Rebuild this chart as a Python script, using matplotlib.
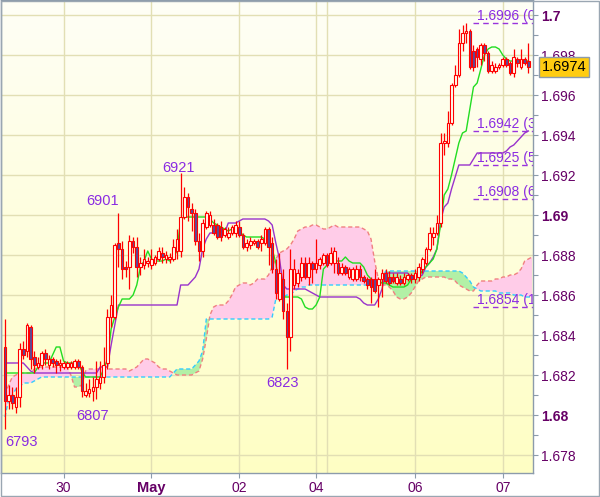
import numpy as np
import matplotlib
matplotlib.use('Agg')
import matplotlib.pyplot as plt
from matplotlib.patches import Rectangle
from matplotlib.collections import LineCollection
from matplotlib.colors import LinearSegmentedColormap

plt.rcParams['font.family'] = ['Liberation Sans', 'DejaVu Sans']

# hourly candles (bar index 0 .. 143)
opens = [
    1.6834, 1.6807, 1.6810, 1.6804, 1.6809, 1.6833, 1.6832, 1.6844, 1.6829, 1.6824,
    1.6825, 1.6831, 1.6825, 1.6828, 1.6827, 1.6825, 1.6824, 1.6824, 1.6824, 1.6824,
    1.6827, 1.6824, 1.6810, 1.6811, 1.6812, 1.6814, 1.6816, 1.6819, 1.6826, 1.6849,
    1.6849, 1.6886, 1.6883, 1.6874, 1.6874, 1.6887, 1.6884, 1.6874, 1.6875, 1.6876,
    1.6875, 1.6876, 1.6878, 1.6881, 1.6878, 1.6878, 1.6878, 1.6882, 1.6882, 1.6899,
    1.6909, 1.6903, 1.6901, 1.6887, 1.6882, 1.6894, 1.6895, 1.6895, 1.6895, 1.6894,
    1.6890, 1.6889, 1.6891, 1.6891, 1.6894, 1.6890, 1.6884, 1.6885, 1.6886, 1.6887,
    1.6886, 1.6886, 1.6893, 1.6886, 1.6873, 1.6858, 1.6868, 1.6852, 1.6839, 1.6865,
    1.6866, 1.6869, 1.6876, 1.6869, 1.6876, 1.6873, 1.6875, 1.6876, 1.6880, 1.6876,
    1.6876, 1.6876, 1.6871, 1.6874, 1.6869, 1.6868, 1.6868, 1.6873, 1.6869, 1.6868,
    1.6868, 1.6868, 1.6865, 1.6868, 1.6871, 1.6869, 1.6869, 1.6866, 1.6868, 1.6866,
    1.6868, 1.6870, 1.6868, 1.6869, 1.6873, 1.6876, 1.6883, 1.6889, 1.6891, 1.6896,
    1.6936, 1.6936, 1.6946, 1.6965, 1.6970, 1.6986, 1.6991, 1.6992, 1.6982, 1.6983,
    1.6978, 1.6985, 1.6981, 1.6972, 1.6972, 1.6974, 1.6975, 1.6978, 1.6976, 1.6971,
    1.6978, 1.6974, 1.6978, 1.6977]
highs = [
    1.6848, 1.6815, 1.6814, 1.6814, 1.6836, 1.6837, 1.6846, 1.6845, 1.6832, 1.6829,
    1.6832, 1.6833, 1.6830, 1.6829, 1.6828, 1.6828, 1.6827, 1.6827, 1.6827, 1.6828,
    1.6828, 1.6825, 1.6816, 1.6818, 1.6819, 1.6827, 1.6827, 1.6834, 1.6853, 1.6860,
    1.6886, 1.6901, 1.6887, 1.6877, 1.6890, 1.6889, 1.6889, 1.6879, 1.6883, 1.6879,
    1.6883, 1.6880, 1.6884, 1.6884, 1.6882, 1.6881, 1.6888, 1.6893, 1.6921, 1.6914,
    1.6911, 1.6906, 1.6903, 1.6891, 1.6898, 1.6902, 1.6902, 1.6898, 1.6896, 1.6897,
    1.6894, 1.6894, 1.6895, 1.6897, 1.6897, 1.6891, 1.6888, 1.6889, 1.6888, 1.6888,
    1.6890, 1.6894, 1.6894, 1.6889, 1.6878, 1.6881, 1.6873, 1.6856, 1.6883, 1.6878,
    1.6873, 1.6879, 1.6879, 1.6879, 1.6877, 1.6888, 1.6879, 1.6881, 1.6881, 1.6884,
    1.6884, 1.6879, 1.6876, 1.6875, 1.6874, 1.6874, 1.6875, 1.6875, 1.6870, 1.6869,
    1.6869, 1.6873, 1.6869, 1.6873, 1.6873, 1.6872, 1.6871, 1.6871, 1.6870, 1.6871,
    1.6871, 1.6871, 1.6873, 1.6876, 1.6879, 1.6884, 1.6894, 1.6894, 1.6900, 1.6941,
    1.6941, 1.6952, 1.6966, 1.6975, 1.6993, 1.6995, 1.6996, 1.6993, 1.6985, 1.6984,
    1.6986, 1.6986, 1.6982, 1.6977, 1.6976, 1.6976, 1.6979, 1.6979, 1.6977, 1.6983,
    1.6979, 1.6983, 1.6979, 1.6986]
lows = [
    1.6793, 1.6803, 1.6803, 1.6801, 1.6804, 1.6828, 1.6829, 1.6823, 1.6821, 1.6823,
    1.6823, 1.6825, 1.6823, 1.6824, 1.6821, 1.6822, 1.6823, 1.6823, 1.6823, 1.6823,
    1.6823, 1.6809, 1.6809, 1.6809, 1.6807, 1.6808, 1.6813, 1.6816, 1.6823, 1.6844,
    1.6848, 1.6874, 1.6868, 1.6869, 1.6863, 1.6881, 1.6869, 1.6870, 1.6873, 1.6874,
    1.6873, 1.6875, 1.6877, 1.6876, 1.6876, 1.6876, 1.6877, 1.6878, 1.6879, 1.6898,
    1.6897, 1.6892, 1.6885, 1.6877, 1.6879, 1.6893, 1.6894, 1.6890, 1.6888, 1.6887,
    1.6889, 1.6888, 1.6890, 1.6889, 1.6889, 1.6883, 1.6882, 1.6883, 1.6885, 1.6883,
    1.6882, 1.6885, 1.6875, 1.6871, 1.6858, 1.6857, 1.6848, 1.6823, 1.6832, 1.6863,
    1.6864, 1.6867, 1.6868, 1.6865, 1.6866, 1.6871, 1.6873, 1.6875, 1.6874, 1.6875,
    1.6871, 1.6870, 1.6870, 1.6870, 1.6868, 1.6867, 1.6867, 1.6867, 1.6866, 1.6863,
    1.6856, 1.6861, 1.6854, 1.6859, 1.6866, 1.6865, 1.6866, 1.6865, 1.6865, 1.6865,
    1.6867, 1.6866, 1.6866, 1.6867, 1.6871, 1.6875, 1.6882, 1.6885, 1.6890, 1.6894,
    1.6930, 1.6934, 1.6945, 1.6964, 1.6969, 1.6982, 1.6986, 1.6973, 1.6972, 1.6974,
    1.6975, 1.6977, 1.6971, 1.6971, 1.6971, 1.6973, 1.6974, 1.6974, 1.6970, 1.6969,
    1.6974, 1.6973, 1.6975, 1.6971]
closes = [
    1.6807, 1.6810, 1.6806, 1.6809, 1.6833, 1.6830, 1.6845, 1.6828, 1.6825, 1.6826,
    1.6831, 1.6828, 1.6828, 1.6826, 1.6825, 1.6826, 1.6826, 1.6826, 1.6826, 1.6827,
    1.6824, 1.6812, 1.6812, 1.6813, 1.6814, 1.6818, 1.6819, 1.6825, 1.6849, 1.6855,
    1.6885, 1.6883, 1.6873, 1.6873, 1.6887, 1.6884, 1.6874, 1.6876, 1.6878, 1.6877,
    1.6878, 1.6879, 1.6882, 1.6879, 1.6880, 1.6879, 1.6884, 1.6888, 1.6899, 1.6909,
    1.6904, 1.6901, 1.6887, 1.6882, 1.6896, 1.6901, 1.6900, 1.6891, 1.6889, 1.6889,
    1.6893, 1.6891, 1.6894, 1.6895, 1.6890, 1.6884, 1.6886, 1.6887, 1.6887, 1.6884,
    1.6888, 1.6893, 1.6884, 1.6873, 1.6861, 1.6871, 1.6852, 1.6839, 1.6873, 1.6873,
    1.6871, 1.6876, 1.6869, 1.6876, 1.6873, 1.6876, 1.6878, 1.6880, 1.6875, 1.6881,
    1.6882, 1.6871, 1.6874, 1.6871, 1.6873, 1.6873, 1.6873, 1.6869, 1.6867, 1.6865,
    1.6864, 1.6862, 1.6868, 1.6871, 1.6867, 1.6866, 1.6867, 1.6869, 1.6866, 1.6869,
    1.6870, 1.6868, 1.6871, 1.6874, 1.6878, 1.6883, 1.6891, 1.6891, 1.6896, 1.6936,
    1.6937, 1.6946, 1.6965, 1.6970, 1.6986, 1.6991, 1.6992, 1.6974, 1.6974, 1.6979,
    1.6985, 1.6981, 1.6972, 1.6975, 1.6974, 1.6975, 1.6978, 1.6975, 1.6971, 1.6979,
    1.6976, 1.6978, 1.6976, 1.6974]

# Ichimoku lines
tenkan = [
    1.6821, 1.6821, 1.6821, 1.6821, 1.6821, 1.6821, 1.6821, 1.6821, 1.6821, 1.6824,
    1.6826, 1.6826, 1.6826, 1.6830, 1.6834, 1.6834, 1.6827, 1.6826, 1.6826, 1.6826,
    1.6826, 1.6822, 1.6819, 1.6819, 1.6819, 1.6819, 1.6819, 1.6823, 1.6828, 1.6843,
    1.6849, 1.6854, 1.6858, 1.6858, 1.6858, 1.6860, 1.6865, 1.6874, 1.6877, 1.6882,
    1.6878, 1.6877, 1.6877, 1.6877, 1.6878, 1.6877, 1.6879, 1.6882, 1.6898, 1.6899,
    1.6899, 1.6899, 1.6899, 1.6899, 1.6899, 1.6899, 1.6898, 1.6896, 1.6895, 1.6894,
    1.6893, 1.6892, 1.6893, 1.6894, 1.6892, 1.6890, 1.6889, 1.6889, 1.6889, 1.6889,
    1.6889, 1.6888, 1.6886, 1.6883, 1.6876, 1.6863, 1.6859, 1.6859, 1.6859, 1.6859,
    1.6859, 1.6858, 1.6854, 1.6853, 1.6853, 1.6855, 1.6859, 1.6873, 1.6875, 1.6877,
    1.6877, 1.6877, 1.6877, 1.6879, 1.6877, 1.6876, 1.6876, 1.6876, 1.6874, 1.6870,
    1.6868, 1.6867, 1.6867, 1.6866, 1.6866, 1.6865, 1.6864, 1.6864, 1.6864, 1.6864,
    1.6865, 1.6868, 1.6869, 1.6869, 1.6872, 1.6874, 1.6876, 1.6878, 1.6883, 1.6895,
    1.6910, 1.6913, 1.6920, 1.6928, 1.6936, 1.6941, 1.6942, 1.6953, 1.6964, 1.6966,
    1.6973, 1.6980, 1.6983, 1.6984, 1.6984, 1.6983, 1.6980, 1.6978, 1.6977, 1.6977,
    1.6976, 1.6976, 1.6977, 1.6977]
kijun = [
    1.6826, 1.6826, 1.6826, 1.6826, 1.6826, 1.6826, 1.6824, 1.6822, 1.6821, 1.6821,
    1.6821, 1.6821, 1.6821, 1.6821, 1.6821, 1.6821, 1.6821, 1.6821, 1.6821, 1.6821,
    1.6821, 1.6821, 1.6821, 1.6821, 1.6821, 1.6821, 1.6824, 1.6824, 1.6824, 1.6835,
    1.6845, 1.6855, 1.6855, 1.6855, 1.6855, 1.6855, 1.6855, 1.6855, 1.6855, 1.6855,
    1.6855, 1.6855, 1.6855, 1.6855, 1.6855, 1.6855, 1.6855, 1.6855, 1.6865, 1.6865,
    1.6865, 1.6867, 1.6869, 1.6873, 1.6883, 1.6888, 1.6891, 1.6891, 1.6891, 1.6891,
    1.6891, 1.6896, 1.6896, 1.6896, 1.6897, 1.6898, 1.6898, 1.6898, 1.6898, 1.6898,
    1.6898, 1.6898, 1.6897, 1.6895, 1.6886, 1.6878, 1.6865, 1.6863, 1.6863, 1.6863,
    1.6863, 1.6863, 1.6863, 1.6862, 1.6861, 1.6860, 1.6859, 1.6859, 1.6859, 1.6859,
    1.6859, 1.6859, 1.6859, 1.6859, 1.6859, 1.6859, 1.6859, 1.6858, 1.6856, 1.6855,
    1.6855, 1.6855, 1.6858, 1.6863, 1.6871, 1.6871, 1.6871, 1.6871, 1.6871, 1.6871,
    1.6871, 1.6869, 1.6869, 1.6869, 1.6870, 1.6874, 1.6876, 1.6879, 1.6883, 1.6897,
    1.6904, 1.6906, 1.6913, 1.6919, 1.6925, 1.6925, 1.6925, 1.6925, 1.6928, 1.6931,
    1.6931, 1.6931, 1.6931, 1.6931, 1.6931, 1.6931, 1.6931, 1.6932, 1.6934, 1.6935,
    1.6937, 1.6939, 1.6941, 1.6942]
# cloud spans (one bar longer than the candles)
span_a = [
    1.6799, 1.6808, 1.6810, 1.6813, 1.6814, 1.6816, 1.6816, 1.6816, 1.6817, 1.6818,
    1.6819, 1.6819, 1.6819, 1.6819, 1.6819, 1.6819, 1.6819, 1.6819, 1.6819, 1.6819,
    1.6819, 1.6819, 1.6819, 1.6819, 1.6819, 1.6819, 1.6819, 1.6819, 1.6819, 1.6819,
    1.6819, 1.6819, 1.6819, 1.6819, 1.6819, 1.6819, 1.6819, 1.6819, 1.6819, 1.6819,
    1.6819, 1.6819, 1.6819, 1.6819, 1.6819, 1.6819, 1.6821, 1.6823, 1.6823, 1.6823,
    1.6823, 1.6823, 1.6825, 1.6827, 1.6832, 1.6848, 1.6848, 1.6848, 1.6848, 1.6848,
    1.6848, 1.6848, 1.6848, 1.6848, 1.6848, 1.6848, 1.6848, 1.6848, 1.6848, 1.6848,
    1.6848, 1.6848, 1.6848, 1.6849, 1.6858, 1.6858, 1.6859, 1.6860, 1.6860, 1.6862,
    1.6863, 1.6864, 1.6864, 1.6865, 1.6865, 1.6865, 1.6865, 1.6865, 1.6865, 1.6865,
    1.6865, 1.6865, 1.6865, 1.6865, 1.6865, 1.6865, 1.6865, 1.6865, 1.6865, 1.6865,
    1.6865, 1.6865, 1.6865, 1.6868, 1.6872, 1.6872, 1.6872, 1.6872, 1.6872, 1.6872,
    1.6872, 1.6872, 1.6872, 1.6872, 1.6872, 1.6872, 1.6872, 1.6872, 1.6872, 1.6872,
    1.6872, 1.6872, 1.6872, 1.6872, 1.6872, 1.6871, 1.6869, 1.6867, 1.6864, 1.6863,
    1.6862, 1.6862, 1.6862, 1.6862, 1.6862, 1.6861, 1.6861, 1.6861, 1.6861, 1.6860,
    1.6860, 1.6860, 1.6859, 1.6859, 1.6859]
span_b = [
    1.6810, 1.6815, 1.6819, 1.6820, 1.6821, 1.6821, 1.6821, 1.6821, 1.6823, 1.6824,
    1.6824, 1.6824, 1.6824, 1.6824, 1.6824, 1.6824, 1.6824, 1.6824, 1.6820, 1.6814,
    1.6814, 1.6815, 1.6822, 1.6823, 1.6823, 1.6823, 1.6823, 1.6824, 1.6823, 1.6823,
    1.6823, 1.6823, 1.6823, 1.6823, 1.6822, 1.6823, 1.6824, 1.6826, 1.6828, 1.6828,
    1.6827, 1.6826, 1.6824, 1.6823, 1.6823, 1.6822, 1.6821, 1.6820, 1.6820, 1.6820,
    1.6820, 1.6820, 1.6821, 1.6822, 1.6828, 1.6838, 1.6850, 1.6854, 1.6855, 1.6855,
    1.6855, 1.6857, 1.6860, 1.6864, 1.6865, 1.6866, 1.6866, 1.6865, 1.6866, 1.6868,
    1.6868, 1.6868, 1.6870, 1.6874, 1.6878, 1.6881, 1.6882, 1.6883, 1.6885, 1.6888,
    1.6892, 1.6893, 1.6894, 1.6894, 1.6895, 1.6895, 1.6894, 1.6893, 1.6893, 1.6894,
    1.6895, 1.6894, 1.6894, 1.6894, 1.6894, 1.6894, 1.6894, 1.6894, 1.6893, 1.6892,
    1.6888, 1.6877, 1.6868, 1.6865, 1.6865, 1.6864, 1.6862, 1.6859, 1.6858, 1.6858,
    1.6859, 1.6861, 1.6864, 1.6867, 1.6868, 1.6869, 1.6869, 1.6869, 1.6869, 1.6869,
    1.6869, 1.6868, 1.6868, 1.6867, 1.6865, 1.6864, 1.6863, 1.6862, 1.6862, 1.6865,
    1.6867, 1.6867, 1.6867, 1.6867, 1.6868, 1.6868, 1.6869, 1.6869, 1.6870, 1.6870,
    1.6871, 1.6873, 1.6877, 1.6878, 1.6879]

# axis annotation data
date_ticks = [16, 40, 64, 85, 112, 136]
date_labels = ['30', 'May', '02', '04', '06', '07']
extra_vgrid = [88]
price_ticks = [1.678, 1.680, 1.682, 1.684, 1.686, 1.688, 1.690, 1.692, 1.694, 1.696, 1.698, 1.700]
price_minor = [1.679, 1.681, 1.683, 1.685, 1.687, 1.689, 1.691, 1.693, 1.695, 1.697, 1.699]

# retracement levels; labels are cut at the plot edge in the original
fib_levels = [1.6996, 1.6942, 1.6925, 1.6908, 1.6854]
fib_labels = ['1.6996 (0', '1.6942 (3', '1.6925 (5', '1.6908 (6', '1.6854 (1']
fib_start = 127.9

swing_bars = [0, 24, 31, 48, 77]
swing_kind = ['low', 'low', 'high', 'high', 'low']
swing_offsets = [(17, -17), (0, -19), (-16, 8), (-2, 1), (-4, -18)]  # pixels

# colours
spine_c = '#8c9bab'
grid_c = '#e2dfb4'
tick_c = '#660066'
violet = '#8a2be2'

n = len(opens)
bars = np.arange(n)
cloud_x = np.arange(len(span_a))
sa = np.array(span_a)
sb = np.array(span_b)

fig = plt.figure(figsize=(6.0, 4.97), dpi=100)
ax = fig.add_axes([1 / 600, 24 / 497, 532 / 600, 473 / 497])
x_lo, x_hi = -1.09, 144.26
y_lo, y_hi = 1.6771, 1.70075

# background gradient
bg = LinearSegmentedColormap.from_list('bg', ['#ffffc4', '#fefef6'])
ax.imshow(np.linspace(0, 1, 256).reshape(-1, 1), extent=[x_lo, x_hi, y_lo, y_hi],
          origin='lower', aspect='auto', cmap=bg, zorder=0)

# grid
for v in price_ticks:
    ax.axhline(v, color=grid_c, lw=1, zorder=0.5)
for t in date_ticks + extra_vgrid:
    ax.axvline(t, color=grid_c, lw=1, zorder=0.5)

# kumo
ax.fill_between(cloud_x, sa, sb, where=sb >= sa, interpolate=True, color='#ffcce8', lw=0, zorder=1)
ax.fill_between(cloud_x, sa, sb, where=sa > sb, interpolate=True, color='#b2f0a6', lw=0, zorder=1)
ax.plot(cloud_x, sb, color='#f08080', lw=1, ls=(0, (3, 2)), zorder=1.5)
ax.plot(cloud_x, sa, color='#33ccff', lw=1, ls=(0, (3, 2)), zorder=1.5)

# fibonacci levels
for lev, lab in zip(fib_levels, fib_labels):
    ax.hlines(lev, fib_start, x_hi + 5, colors='#9933dd', lw=1, linestyles=(0, (4, 3)), zorder=2)
    ax.annotate(lab, xy=(fib_start, lev), xytext=(4, 3), textcoords='offset pixels',
                ha='left', va='baseline', fontsize=10, color=violet, clip_on=True, zorder=2)

# tenkan / kijun
ax.plot(bars, kijun, color='#9933cc', lw=1, zorder=2.5)
ax.plot(bars, tenkan, color='#22dd22', lw=1, zorder=2.5)

# candles
w = 0.72
segs = []
for i in range(n):
    o, h, l, c = opens[i], highs[i], lows[i], closes[i]
    top, bot = max(o, c), min(o, c)
    segs.append([(i, h), (i, top)])
    segs.append([(i, bot), (i, l)])
    fc = '#5c4b99' if c < o else '#fffff0'
    ax.add_patch(Rectangle((i - w / 2, bot), w, top - bot, facecolor=fc,
                           edgecolor='#ff0000', lw=0.8, zorder=3.2))
ax.add_collection(LineCollection(segs, colors='#ff0000', linewidths=0.9, zorder=3))

# swing labels
for b, kind, (dx, dy) in zip(swing_bars, swing_kind, swing_offsets):
    val = lows[b] if kind == 'low' else highs[b]
    ax.annotate(f'{val:.4f}'[2:], xy=(b, val), xytext=(dx, dy), textcoords='offset pixels',
                ha='center', va='baseline', fontsize=10.5, color=violet, zorder=4)

ax.set_xlim(x_lo, x_hi)
ax.set_ylim(y_lo, y_hi)

# axes styling
for s in ax.spines.values():
    s.set_color(spine_c)
    s.set_linewidth(1)

ax.yaxis.tick_right()
ax.set_yticks(price_ticks)
ax.set_yticks(price_minor, minor=True)
ylabs = [f'{v:.3f}'.rstrip('0').rstrip('.') for v in price_ticks]
ax.set_yticklabels(ylabs)
for v, tl in zip(price_ticks, ax.get_yticklabels()):
    if abs(v * 100 - round(v * 100)) < 1e-6:
        tl.set_fontweight('bold')
        tl.set_fontsize(10.5)
ax.tick_params(axis='y', which='both', direction='out', length=3.6, width=0.8,
               color=spine_c, pad=2.2, labelsize=10, labelcolor=tick_c)

ax.set_xticks(date_ticks)
ax.set_xticklabels(date_labels)
ax.tick_params(axis='x', direction='out', length=3.6, width=0.8, color=spine_c,
               pad=2.5, labelsize=10, labelcolor=tick_c)
for tl in ax.get_xticklabels():
    if tl.get_text() == 'May':
        tl.set_fontweight('bold')
        tl.set_fontsize(10.5)

# last price box
last_price = closes[-1]
ax.annotate(f'{last_price:.4f}', xy=(1, last_price), xycoords=('axes fraction', 'data'),
            xytext=(31, 0), textcoords='offset pixels', ha='center', va='center',
            fontsize=10.5, color='black', annotation_clip=False, zorder=10,
            bbox=dict(boxstyle='square,pad=0.2', fc='#ffcc11', ec=spine_c, lw=1))

# outer frame
fig.add_artist(Rectangle((0.5 / 600, 1.5 / 497), 598 / 600, 495 / 497, transform=fig.transFigure,
                         fill=False, ec='#9aa6b2', lw=1))

fig.savefig('out.png', dpi=100)
